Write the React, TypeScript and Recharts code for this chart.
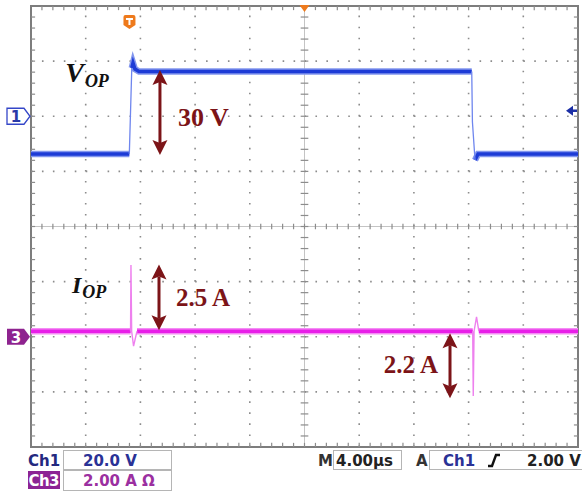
import React from "react";
import {
  ComposedChart,
  Line,
  XAxis,
  YAxis,
  ReferenceLine,
  ReferenceDot,
  ReferenceArea,
} from "recharts";

// ---------- scope settings ----------
const timeDomain: [number, number] = [0, 40]; // 4 µs/div, 10 div
const ch1Domain: [number, number] = [-120, 40]; // 20 V/div, ground 2 div below top
const ch3Domain: [number, number] = [-4, 12]; // 2 A/div, ground 6 div below top
const divDomain: [number, number] = [-4, 4]; // graticule divisions

// ---------- Ch1 : V_OP (volts) ----------
const vopTime = [0, 7.19, 7.37, 7.46, 7.6, 7.9, 32.23, 32.28, 32.47, 32.69, 40];
const vopVolts = [-13.7, -13.7, 17.5, 19.3, 17.1, 16.2, 16.2, -2.1, -15.9, -13.7, -13.7];
const vopFastEdge = [false, true, false, false, false, false, true, true, false, false];

// ---------- Ch3 : I_OP (amps) ----------
const iopTime = [0, 7.28, 7.31, 7.36, 7.5, 7.75, 32.3, 32.34, 32.4, 32.58, 32.75, 40];
const iopAmps = [0.2, 0.2, 2.6, 0.2, -0.34, 0.2, 0.2, -2.15, 0.2, 0.72, 0.2, 0.2];
const iopFastEdge = [false, true, true, true, true, false, true, true, true, true, false];

// ---------- graticule ----------
const majorTimes = [4, 8, 12, 16, 24, 28, 32, 36];
const majorDivs = [-3, -2, -1, 1, 2, 3];
const centerTime = 20;
const centerDiv = 0;
const minorTimeStep = 0.8;
const minorDivStep = 0.2;

// ---------- markers ----------
const triggerTime = 7.2;
const triggerLevel = 2.0; // V
const ch1Ground = 0;
const ch3Ground = 0;

// ---------- annotations ----------
const vopLabel = { t: 2.5, v: 12.4 };
const iopLabel = { t: 3.0, a: 1.58 };
const label30V = { t: 10.75, v: -3.6, text: "30 V" };
const label25A = { t: 10.6, a: 1.11, text: "2.5 A" };
const label22A = { t: 25.8, a: -1.32, text: "2.2 A" };
const arrow30V = { t: 9.43, top: 16.8, bottom: -14.1 };
const arrow25A = { t: 9.36, top: 2.62, bottom: 0.24 };
const arrow22A = { t: 30.64, top: 0.13, bottom: -2.23 };

type Pt = { t: number; y: number | null };

function split(ts: number[], vs: number[], edge: boolean[]) {
  const thick: Pt[] = [];
  const thin: Pt[] = [];
  for (let i = 0; i < ts.length; i++) {
    const left = i > 0 ? edge[i - 1] : null;
    const right = i < ts.length - 1 ? edge[i] : null;
    if (left === false || right === false) thick.push({ t: ts[i], y: vs[i] });
    if (left === true || right === true) thin.push({ t: ts[i], y: vs[i] });
    if (right !== null) {
      const mid = (ts[i] + ts[i + 1]) / 2;
      if (right) thick.push({ t: mid, y: null });
      else thin.push({ t: mid, y: null });
    }
  }
  return { thick, thin };
}

const vop = split(vopTime, vopVolts, vopFastEdge);
const iop = split(iopTime, iopAmps, iopFastEdge);

const GRID = "#8c8c8c";
const RED = "#7c1418";
const SERIF = "'Liberation Serif', 'Times New Roman', serif";
const SANS = "'DejaVu Sans', sans-serif";

const range = (a: number, b: number, step: number) => {
  const out: number[] = [];
  for (let v = a + step; v < b - 1e-6; v += step) out.push(Math.round(v * 1000) / 1000);
  return out;
};

const tickTimes = range(timeDomain[0], timeDomain[1], minorTimeStep);
const tickDivs = range(divDomain[0], divDomain[1], minorDivStep);

const ArrowShape = (p: any) => {
  const x = p.x1;
  const yT = Math.min(p.y1, p.y2);
  const yB = Math.max(p.y1, p.y2);
  const hw = 7.5;
  const hh = 15;
  return (
    <g>
      <line x1={x} y1={yT + hh - 3} x2={x} y2={yB - hh + 3} stroke={RED} strokeWidth={3} />
      <polygon
        points={`${x},${yT} ${x - hw},${yT + hh} ${x},${yT + hh - 3} ${x + hw},${yT + hh}`}
        fill={RED}
      />
      <polygon
        points={`${x},${yB} ${x - hw},${yB - hh} ${x},${yB - hh + 3} ${x + hw},${yB - hh}`}
        fill={RED}
      />
    </g>
  );
};

const textShape = (text: string, size: number) => (p: any) => (
  <text
    x={p.cx}
    y={p.cy}
    fontFamily={SERIF}
    fontWeight="bold"
    fontSize={size}
    fill={RED}
  >
    {text}
  </text>
);

const symbolShape = (main: string, mainSize: number) => (p: any) => (
  <text x={p.cx} y={p.cy} fontFamily={SERIF} fontWeight="bold" fontStyle="italic" fill="#111">
    <tspan fontSize={mainSize}>{main}</tspan>
    <tspan fontSize={18} dx={1} dy={5}>
      OP
    </tspan>
  </text>
);

const ch1Marker = (p: any) => {
  const x = p.cx;
  const y = p.cy;
  return (
    <g>
      <polygon
        points={`${x - 24},${y - 8} ${x - 7},${y - 8} ${x - 1},${y} ${x - 7},${y + 8} ${x - 24},${y + 8}`}
        fill="#fff"
        stroke="#3446c8"
        strokeWidth={1.3}
      />
      <text x={x - 15} y={y + 6} textAnchor="middle" fontFamily={SANS} fontWeight="bold" fontSize={15} fill="#2a3aa8">
        1
      </text>
    </g>
  );
};

const ch3Marker = (p: any) => {
  const x = p.cx;
  const y = p.cy;
  return (
    <g>
      <polygon
        points={`${x - 24},${y - 8} ${x - 7},${y - 8} ${x - 1},${y} ${x - 7},${y + 8} ${x - 24},${y + 8}`}
        fill="#8e238f"
      />
      <text x={x - 15} y={y + 6} textAnchor="middle" fontFamily={SANS} fontWeight="bold" fontSize={15} fill="#fff">
        3
      </text>
    </g>
  );
};

const levelMarker = (p: any) => {
  const x = p.cx;
  const y = p.cy;
  return (
    <g>
      <polygon points={`${x - 12},${y} ${x - 5},${y - 5} ${x - 5},${y + 5}`} fill="#1c2fa6" />
      <line x1={x - 6} y1={y} x2={x - 1} y2={y} stroke="#1c2fa6" strokeWidth={2.5} />
    </g>
  );
};

const triggerMarker = (p: any) => {
  const x = p.cx;
  const y = p.cy;
  return (
    <g>
      <path
        d={`M ${x - 6} ${y + 11} Q ${x - 6} ${y + 9} ${x - 4} ${y + 9} L ${x + 4} ${y + 9} Q ${x + 6} ${y + 9} ${x + 6} ${y + 11} L ${x + 6} ${y + 19} L ${x} ${y + 23} L ${x - 6} ${y + 19} Z`}
        fill="#ee7a1c"
      />
      <rect x={x - 3.5} y={y + 12} width={7} height={2} fill="#fff" />
      <rect x={x - 1} y={y + 12} width={2} height={7} fill="#fff" />
    </g>
  );
};

const positionMarker = (p: any) => {
  const x = p.cx;
  const y = p.cy;
  return <polygon points={`${x - 5},${y - 1} ${x + 5},${y - 1} ${x},${y + 6}`} fill="#ee7a1c" />;
};

export default function App() {
  return (
    <div
      style={{
        position: "absolute",
        left: 0,
        top: 0,
        width: 582,
        height: 491,
        background: "#fff",
        overflow: "hidden",
      }}
    >
      <ComposedChart width={582} height={491} margin={{ top: 6, right: 4, bottom: 44, left: 31 }}>
        <XAxis dataKey="t" type="number" domain={timeDomain} hide allowDataOverflow />
        <YAxis yAxisId="v" type="number" domain={ch1Domain} hide allowDataOverflow />
        <YAxis yAxisId="i" type="number" domain={ch3Domain} hide allowDataOverflow />
        <YAxis yAxisId="g" type="number" domain={divDomain} hide allowDataOverflow />

        {/* dotted graticule */}
        {majorTimes.map((t) => (
          <ReferenceLine
            key={"vx" + t}
            x={t}
            yAxisId="g"
            stroke={GRID}
            strokeWidth={1.6}
            strokeDasharray="1.6 9.42"
          />
        ))}
        {majorDivs.map((d) => (
          <ReferenceLine
            key={"hy" + d}
            y={d}
            yAxisId="g"
            stroke={GRID}
            strokeWidth={1.6}
            strokeDasharray="1.6 9.34"
          />
        ))}
        {/* center cross */}
        <ReferenceLine x={centerTime} yAxisId="g" stroke="#c4c4c4" strokeWidth={1} />
        <ReferenceLine y={centerDiv} yAxisId="g" stroke="#c4c4c4" strokeWidth={1} />
        {tickTimes.map((t) => (
          <ReferenceLine
            key={"ct" + t}
            yAxisId="g"
            segment={[
              { x: t, y: centerDiv - 0.05 },
              { x: t, y: centerDiv + 0.05 },
            ]}
            stroke={GRID}
            strokeWidth={1.2}
          />
        ))}
        {tickDivs.map((d) => (
          <ReferenceLine
            key={"cd" + d}
            yAxisId="g"
            segment={[
              { x: centerTime - 0.28, y: d },
              { x: centerTime + 0.28, y: d },
            ]}
            stroke={GRID}
            strokeWidth={1.2}
          />
        ))}
        {/* border ticks */}
        {tickTimes.map((t) => (
          <ReferenceLine
            key={"tt" + t}
            yAxisId="g"
            segment={[
              { x: t, y: divDomain[1] },
              { x: t, y: divDomain[1] - 0.075 },
            ]}
            stroke={GRID}
            strokeWidth={1.2}
          />
        ))}
        {tickTimes.map((t) => (
          <ReferenceLine
            key={"bt" + t}
            yAxisId="g"
            segment={[
              { x: t, y: divDomain[0] },
              { x: t, y: divDomain[0] + 0.075 },
            ]}
            stroke={GRID}
            strokeWidth={1.2}
          />
        ))}
        {tickDivs.map((d) => (
          <ReferenceLine
            key={"lt" + d}
            yAxisId="g"
            segment={[
              { x: timeDomain[0], y: d },
              { x: timeDomain[0] + 0.3, y: d },
            ]}
            stroke={GRID}
            strokeWidth={1.2}
          />
        ))}
        {tickDivs.map((d) => (
          <ReferenceLine
            key={"rt" + d}
            yAxisId="g"
            segment={[
              { x: timeDomain[1], y: d },
              { x: timeDomain[1] - 0.3, y: d },
            ]}
            stroke={GRID}
            strokeWidth={1.2}
          />
        ))}
        <ReferenceArea
          x1={timeDomain[0]}
          x2={timeDomain[1]}
          y1={divDomain[0]}
          y2={divDomain[1]}
          yAxisId="g"
          fill="none"
          fillOpacity={0}
          stroke="#7d7d7d"
          strokeWidth={2}
        />

        {/* traces */}
        <Line data={vop.thick} yAxisId="v" dataKey="y" type="linear" dot={false} stroke="#8296ee" strokeWidth={6.5} isAnimationActive={false} connectNulls={false} />
        <Line data={vop.thick} yAxisId="v" dataKey="y" type="linear" dot={false} stroke="#1d3bd6" strokeWidth={3.5} isAnimationActive={false} connectNulls={false} />
        <Line data={vop.thin} yAxisId="v" dataKey="y" type="linear" dot={false} stroke="#6f86ee" strokeWidth={1.3} isAnimationActive={false} connectNulls={false} />
        <Line data={iop.thick} yAxisId="i" dataKey="y" type="linear" dot={false} stroke="#f48cf4" strokeWidth={6.5} isAnimationActive={false} connectNulls={false} />
        <Line data={iop.thick} yAxisId="i" dataKey="y" type="linear" dot={false} stroke="#e81ee8" strokeWidth={3.5} isAnimationActive={false} connectNulls={false} />
        <Line data={iop.thin} yAxisId="i" dataKey="y" type="linear" dot={false} stroke="#ee80ee" strokeWidth={1.4} isAnimationActive={false} connectNulls={false} />

        {/* annotations */}
        <ReferenceDot x={vopLabel.t} y={vopLabel.v} yAxisId="v" r={0} shape={symbolShape("V", 28)} />
        <ReferenceDot x={iopLabel.t} y={iopLabel.a} yAxisId="i" r={0} shape={symbolShape("I", 24)} />
        <ReferenceDot x={label30V.t} y={label30V.v} yAxisId="v" r={0} shape={textShape(label30V.text, 26)} />
        <ReferenceDot x={label25A.t} y={label25A.a} yAxisId="i" r={0} shape={textShape(label25A.text, 25)} />
        <ReferenceDot x={label22A.t} y={label22A.a} yAxisId="i" r={0} shape={textShape(label22A.text, 25)} />
        <ReferenceLine
          yAxisId="v"
          segment={[
            { x: arrow30V.t, y: arrow30V.top },
            { x: arrow30V.t, y: arrow30V.bottom },
          ]}
          shape={ArrowShape}
        />
        <ReferenceLine
          yAxisId="i"
          segment={[
            { x: arrow25A.t, y: arrow25A.top },
            { x: arrow25A.t, y: arrow25A.bottom },
          ]}
          shape={ArrowShape}
        />
        <ReferenceLine
          yAxisId="i"
          segment={[
            { x: arrow22A.t, y: arrow22A.top },
            { x: arrow22A.t, y: arrow22A.bottom },
          ]}
          shape={ArrowShape}
        />

        {/* scope markers */}
        <ReferenceDot x={timeDomain[0]} y={ch1Ground} yAxisId="v" r={0} shape={ch1Marker} />
        <ReferenceDot x={timeDomain[0]} y={ch3Ground} yAxisId="i" r={0} shape={ch3Marker} />
        <ReferenceDot x={timeDomain[1]} y={triggerLevel} yAxisId="v" r={0} shape={levelMarker} />
        <ReferenceDot x={triggerTime} y={ch1Domain[1]} yAxisId="v" r={0} shape={triggerMarker} />
        <ReferenceDot x={centerTime} y={ch1Domain[1]} yAxisId="v" r={0} shape={positionMarker} />
      </ComposedChart>

      {/* readout bar */}
      <svg
        width={582}
        height={491}
        style={{ position: "absolute", left: 0, top: 0, pointerEvents: "none" }}
        fontFamily={SANS}
        fontSize={15}
        fontWeight="bold"
      >
        <text x={28} y={466} fill="#23297f">Ch1</text>
        <rect x={63.5} y={450.5} width={108} height={19} fill="none" stroke="#b5b5b5" />
        <text x={83} y={466} fill="#2a3296">20.0 V</text>

        <rect x={28} y={471} width={32} height={18} fill="#8c2394" />
        <text x={28.5} y={486} fill="#fff" letterSpacing={-0.6}>Ch3</text>
        <rect x={63.5} y={470.5} width={108} height={20} fill="none" stroke="#b5b5b5" />
        <text x={83} y={486} fill="#9b2fa0">2.00 A Ω</text>

        <text x={318} y={466} fill="#333">M</text>
        <rect x={333.5} y={450.5} width={68} height={19} fill="none" stroke="#b5b5b5" />
        <text x={336} y={466} fill="#222">4.00µs</text>
        <text x={416} y={466} fill="#333">A</text>
        <rect x={429.5} y={450.5} width={160} height={19} fill="none" stroke="#b5b5b5" />
        <text x={443} y={466} fill="#2a3296">Ch1</text>
        <path d="M 488 466 L 492 466 L 496 455 L 500 455" fill="none" stroke="#111" strokeWidth={2.4} />
        <text x={527} y={466} fill="#222">2.00 V</text>
      </svg>
    </div>
  );
}
